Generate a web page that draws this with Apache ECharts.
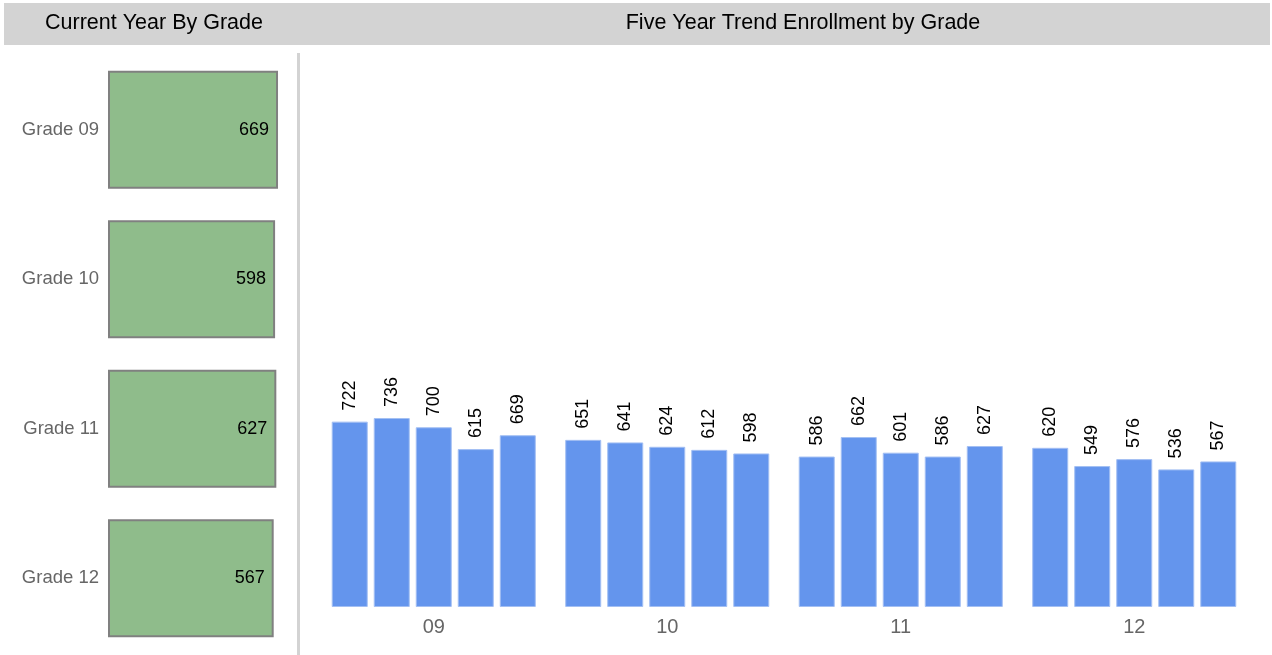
<!DOCTYPE html>
<html>
<head>
<meta charset="utf-8">
<script src="https://cdn.jsdelivr.net/npm/echarts@6/dist/echarts.min.js"></script>
<style>
  html, body { margin: 0; padding: 0; background: #fff; }
  #chart { width: 1272px; height: 655px; }
</style>
</head>
<body>
<div id="chart"></div>
<script>
// current year by grade
const grades = ['Grade 09', 'Grade 10', 'Grade 11', 'Grade 12'];
const currentYear = [669, 598, 627, 567];

// five year trend, one array per year, values per grade
const gradeCodes = ['09', '10', '11', '12'];
const yearNames = ['Year 1', 'Year 2', 'Year 3', 'Year 4', 'Year 5'];
const year1 = [722, 651, 586, 620];
const year2 = [736, 641, 662, 549];
const year3 = [700, 624, 601, 576];
const year4 = [615, 612, 586, 536];
const year5 = [669, 598, 627, 567];
const trend = [year1, year2, year3, year4, year5];

const FONT = '"Liberation Sans", Arial, sans-serif';

const myChart = echarts.init(document.getElementById('chart'));

const trendSeries = trend.map((vals, i) => ({
  name: yearNames[i],
  type: 'bar',
  xAxisIndex: 1,
  yAxisIndex: 1,
  data: vals,
  barWidth: 36,
  barGap: '16.7%',
  itemStyle: {
    color: '#6495ED',
    borderColor: '#a3bff3',
    borderWidth: 1,
  },
  label: {
    show: true,
    position: 'top',
    rotate: 90,
    align: 'left',
    verticalAlign: 'middle',
    distance: 11,
    color: '#000',
    fontSize: 18,
    fontFamily: FONT,
  },
}));

const option = {
  animation: false,
  backgroundColor: '#fff',
  graphic: [
    {
      type: 'rect',
      z: -10,
      shape: { x: 4, y: 3, width: 1266, height: 42 },
      style: { fill: '#d3d3d3' },
    },
    {
      type: 'line',
      shape: { x1: 298.5, y1: 53, x2: 298.5, y2: 655 },
      style: { stroke: '#d3d3d3', lineWidth: 3 },
    },
  ],
  title: [
    {
      text: 'Current Year By Grade',
      left: 149,
      top: 7,
      textAlign: 'center',
      textStyle: { fontFamily: FONT, fontSize: 21.5, fontWeight: 'normal', color: '#000' },
    },
    {
      text: 'Five Year Trend Enrollment by Grade',
      left: 798,
      top: 7,
      textAlign: 'center',
      textStyle: { fontFamily: FONT, fontSize: 21.5, fontWeight: 'normal', color: '#000' },
    },
  ],
  grid: [
    { left: 108, top: 55, width: 240.7, height: 598 },
    { left: 317, right: 21, top: 55, bottom: 48 },
  ],
  xAxis: [
    {
      gridIndex: 0,
      type: 'log',
      logBase: 10,
      min: 1,
      max: 10000,
      show: false,
    },
    {
      gridIndex: 1,
      type: 'category',
      data: gradeCodes,
      axisLine: { show: false },
      axisTick: { show: false },
      axisLabel: { color: '#666', fontSize: 20, fontFamily: FONT, margin: 10 },
    },
  ],
  yAxis: [
    {
      gridIndex: 0,
      type: 'category',
      inverse: true,
      data: grades,
      axisLine: { show: false },
      axisTick: { show: false },
      axisLabel: { color: '#666', fontSize: 18.5, fontFamily: FONT, margin: 9 },
    },
    {
      gridIndex: 1,
      type: 'value',
      min: 0,
      max: 2150,
      show: false,
      splitLine: { show: false },
    },
  ],
  series: [
    {
      name: 'Current Year',
      type: 'bar',
      xAxisIndex: 0,
      yAxisIndex: 0,
      data: currentYear,
      barWidth: 118,
      itemStyle: {
        color: '#8FBC8B',
        borderColor: '#808080',
        borderWidth: 2,
      },
      label: {
        show: true,
        position: 'insideRight',
        distance: 9,
        color: '#000',
        fontSize: 18,
        fontFamily: FONT,
      },
    },
    ...trendSeries,
  ],
};

myChart.setOption(option);
</script>
</body>
</html>
